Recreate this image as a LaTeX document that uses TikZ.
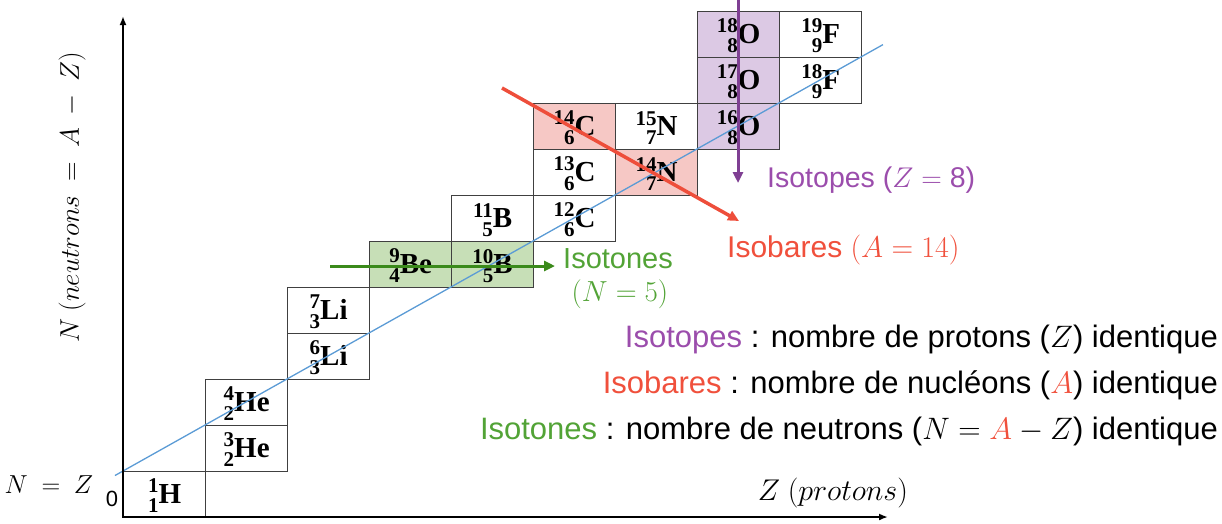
\RequirePackage{fix-cm}
\documentclass[tikz,border=0pt]{standalone}
\usepackage{fontspec}
\setmainfont{Liberation Serif}
\newfontfamily\arial{Liberation Sans}
\usetikzlibrary{arrows.meta}
\definecolor{gfill}{HTML}{C7DFB7}
\definecolor{pfill}{HTML}{F6C8C5}
\definecolor{vfill}{HTML}{DCC9E4}
\definecolor{garrow}{HTML}{3B8A1B}
\definecolor{gtext}{HTML}{52A336}
\definecolor{rarrow}{HTML}{EE4E3B}
\definecolor{rtext}{HTML}{F0503C}
\definecolor{varrow}{HTML}{7F3F93}
\definecolor{vtext}{HTML}{9B4DAC}
\definecolor{blueline}{HTML}{5B9BD5}
\definecolor{cellline}{HTML}{404040}
\newcommand{\nuc}[3]{\raisebox{-4pt}[\height][\depth]{\bfseries\fontsize{21}{19}\selectfont\begin{tabular}{@{}r@{}}#1\\#2\end{tabular}\fontsize{29}{29}\selectfont #3}}
\newcommand{\mysz}[1]{\fontsize{#1}{#1}\selectfont}
\begin{document}
\begin{tikzpicture}[x=1pt,y=-1pt,
  cell/.style={draw=cellline, line width=1.3pt, minimum width=82pt, minimum height=46pt, inner sep=0pt, anchor=north west},
  axisline/.style={line width=2.2pt, {Latex[length=9pt,width=7pt]}-{Latex[length=9pt,width=7pt]}},
  colarrow/.style={line width=3pt, -{Triangle[length=11pt,width=10pt]}},
  lbl/.style={inner sep=0pt}]
\useasboundingbox (0,0) rectangle (1222,523);
% cells
\node[cell] (H1)  at (123,471) {\nuc{1}{1}{H}};
\node[cell] (He3) at (205,425) {\nuc{3}{2}{He}};
\node[cell] (He4) at (205,379) {\nuc{4}{2}{He}};
\node[cell] (Li6) at (287,333) {\nuc{6}{3}{Li}};
\node[cell] (Li7) at (287,287) {\nuc{7}{3}{Li}};
\node[cell, fill=gfill] (Be9) at (369,241) {\nuc{9}{4}{Be}};
\node[cell, fill=gfill] (B10) at (451,241) {\nuc{10}{5}{B}};
\node[cell] (B11) at (451,195) {\nuc{11}{5}{B}};
\node[cell] (C12) at (533,195) {\nuc{12}{6}{C}};
\node[cell] (C13) at (533,149) {\nuc{13}{6}{C}};
\node[cell, fill=pfill] (C14) at (533,103) {\nuc{14}{6}{C}};
\node[cell, fill=pfill] (N14) at (615,149) {\nuc{14}{7}{N}};
\node[cell] (N15) at (615,103) {\nuc{15}{7}{N}};
\node[cell, fill=vfill] (O16) at (697,103) {\nuc{16}{8}{O}};
\node[cell, fill=vfill] (O17) at (697,57) {\nuc{17}{8}{O}};
\node[cell, fill=vfill] (O18) at (697,11) {\nuc{18}{8}{O}};
\node[cell] (F18) at (779,57) {\nuc{18}{9}{F}};
\node[cell] (F19) at (779,11) {\nuc{19}{9}{F}};
% N = Z line
\coordinate (nz1) at (115,475.5);
\coordinate (nz2) at (883,44.6);
\draw[blueline, line width=1.3pt] (nz1) -- (nz2);
% axes
\coordinate (O) at (123,517);
\coordinate (ytop) at (123,16);
\coordinate (xend) at (888,517);
\draw[axisline] (ytop) -- (O) -- (xend);
% coloured arrows
\coordinate (g1) at (330,266);
\coordinate (g2) at (555,266);
\draw[colarrow, garrow] (g1) -- (g2);
\coordinate (r1) at (502,88);
\coordinate (r2) at (739,221);
\draw[colarrow, rarrow, line width=3.5pt] (r1) -- (r2);
\coordinate (v1) at (738,0);
\coordinate (v2) at (738,183);
\draw[colarrow, varrow] (v1) -- (v2);
% labels
\node[lbl, anchor=west, text=vtext] (lisotopes) at (767,180) {\arial\mysz{28.5}Isotopes ($Z = $ 8)};
\node[lbl, anchor=west, text=rtext] (lisobares) at (727,250) {\arial\mysz{30}Isobares $(A = 14)$};
\node[lbl, text=gtext] (lisotones) at (618,259) {\arial\mysz{29}Isotones};
\node[lbl, text=gtext] (lisotonesN) at (620,294) {\mysz{29}$(N = 5)$};
% legend
\node[lbl, anchor=east] (leg1) at (1218,339) {\arial\mysz{31}{\color{vtext}Isotopes} : nombre de protons ($Z$) identique};
\node[lbl, anchor=east] (leg2) at (1218,385) {\arial\mysz{31}{\color{rtext}Isobares} : nombre de nucléons (${\color{rtext}A}$) identique};
\node[lbl, anchor=east] (leg3) at (1218,431) {\arial\mysz{31}{\color{gtext}Isotones} : nombre de neutrons ($N = {\color{rtext}A} - Z$) identique};
% axis labels
\node[lbl, rotate=90] (ylabel) at (72,197) {\mysz{27}$N\ (neutrons\ =\ A\ -\ Z)$};
\node[lbl] (nzlabel) at (49,485) {\mysz{26}$N\ =\ Z$};
\node[lbl] (zero) at (112,499) {\arial\mysz{22}0};
\node[lbl] (xlabel) at (833,493) {\mysz{30}$Z\ (protons)$};
\end{tikzpicture}
\end{document}
